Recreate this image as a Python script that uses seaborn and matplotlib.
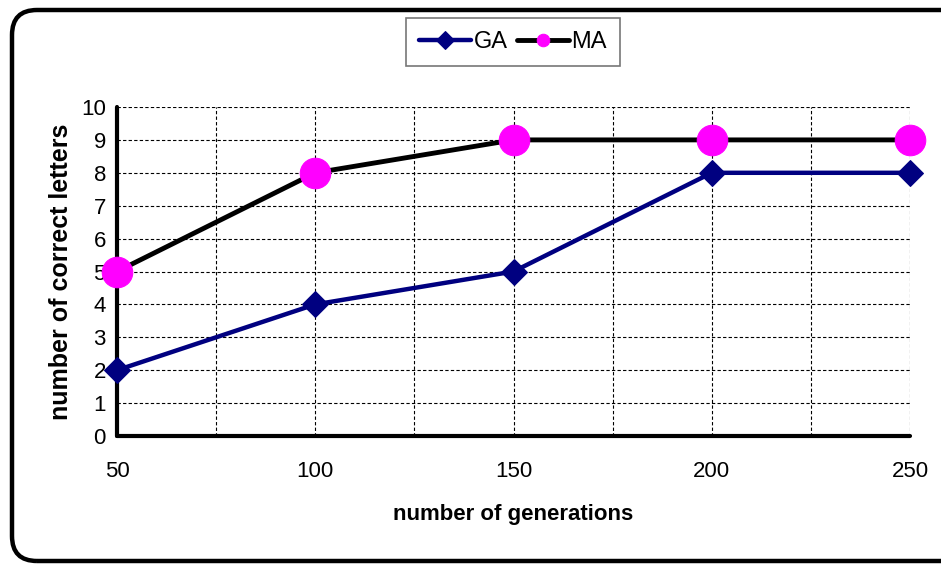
import matplotlib
matplotlib.use("Agg")
import matplotlib.pyplot as plt
import seaborn as sns
from matplotlib.patches import FancyBboxPatch

generations = [50, 100, 150, 200, 250]
ga_letters = [2, 4, 5, 8, 8]
ma_letters = [5, 8, 9, 9, 9]

sns.set_theme(style="white")
plt.rcParams['font.family'] = ['Liberation Sans', 'DejaVu Sans']
plt.rcParams['text.color'] = 'black'
plt.rcParams['axes.labelcolor'] = 'black'

fig = plt.figure(figsize=(9.41, 5.64), dpi=100)
ax = fig.add_axes([117 / 941, 1 - 436 / 564, (910 - 117) / 941, (436 - 107) / 564])

# outer rounded frame (right side runs off the picture), in inches
frame = FancyBboxPatch((0.12, 0.03), 9.56, 5.51,
                       boxstyle="round,pad=0,rounding_size=0.25",
                       transform=fig.dpi_scale_trans, fill=False,
                       edgecolor="black", linewidth=3.2, zorder=0)
fig.patches.append(frame)
frame.set_clip_box(fig.bbox)
frame.set_in_layout(False)

sns.lineplot(x=generations, y=ga_letters, ax=ax, color="#000080", linewidth=3.2,
             marker="D", markersize=13, markeredgecolor="#000080",
             label="GA", clip_on=False, zorder=3)
sns.lineplot(x=generations, y=ma_letters, ax=ax, color="black", linewidth=3.5,
             marker="o", markersize=22, markerfacecolor="#FF00FF",
             markeredgecolor="#FF00FF", label="MA", clip_on=False, zorder=4)

ax.set_xlim(50, 250)
ax.set_ylim(0, 10)
ax.set_xticks(generations)
ax.set_xticks([75, 125, 175, 225], minor=True)
ax.set_yticks(range(0, 11))
ax.grid(True, which="both", color="black", linestyle=(0, (3, 2)), linewidth=0.8)
ax.set_axisbelow(True)

for side in ["top", "right"]:
    ax.spines[side].set_visible(False)
for side in ["left", "bottom"]:
    ax.spines[side].set_linewidth(3)
    ax.spines[side].set_color("black")
    ax.spines[side].set_capstyle("round")

ax.tick_params(axis="both", which="major", direction="out", length=6, width=3,
               color="black", labelsize=16, labelcolor="black")
ax.tick_params(axis="x", which="major", pad=12)
ax.tick_params(axis="y", which="major", pad=2)
ax.tick_params(axis="x", which="minor", length=0)

ax.set_xlabel("number of generations", fontsize=16, fontweight="bold", labelpad=16)
ax.set_ylabel("number of correct letters", fontsize=18, fontweight="bold", labelpad=6)

leg = ax.legend(loc="upper center", bbox_to_anchor=(513 / 941, 1 - 18 / 564),
                bbox_transform=fig.transFigure, ncol=2, frameon=True,
                fancybox=False, fontsize=17, handlelength=2.2, handletextpad=0.1,
                columnspacing=0.4, borderpad=0.55, borderaxespad=0)
leg.get_frame().set_edgecolor("#555555")
leg.get_frame().set_linewidth(1.2)
for h in leg.legend_handles:
    h.set_markersize(9)
for t in leg.get_texts():
    t.set_color("black")

fig.savefig("out.png", dpi=100)
